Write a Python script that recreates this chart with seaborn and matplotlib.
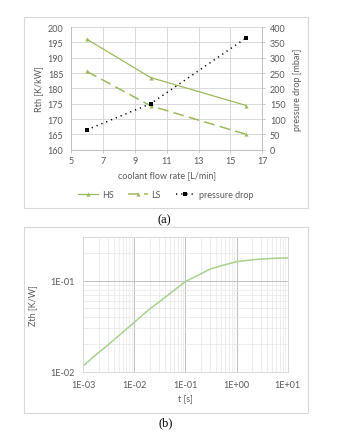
import numpy as np
import pandas as pd
import matplotlib
matplotlib.use("Agg")
import matplotlib.pyplot as plt
from matplotlib.patches import Rectangle
from matplotlib.ticker import FixedLocator, LogLocator, NullFormatter, FuncFormatter
import seaborn as sns

# ---- data: thermal resistance and pressure drop vs. coolant flow ----
flow_rate = [6, 10, 16]              # L/min
rth_hs = [196.0, 183.5, 174.4]       # K/kW
rth_ls = [185.5, 174.3, 165.0]       # K/kW
pressure_drop = [65, 150, 365]       # mbar

# ---- data: transient thermal impedance ----
t_s = [1e-3, 2e-3, 3e-3, 5e-3, 1e-2, 2e-2, 3e-2, 5e-2, 1e-1, 2e-1, 3e-1, 5e-1, 1, 2, 3, 5, 10]
zth = [0.0116, 0.0163, 0.0195, 0.0250, 0.0350, 0.0490, 0.0580, 0.0725, 0.0980,
       0.1190, 0.1340, 0.1460, 0.1620, 0.1695, 0.1730, 0.1760, 0.1780]

x_ticks_a = [5, 7, 9, 11, 13, 15, 17]
y_ticks_left = [160, 165, 170, 175, 180, 185, 190, 195, 200]
y_ticks_right = [0, 50, 100, 150, 200, 250, 300, 350, 400]

sns.set_theme(style="white")
plt.rcParams["font.family"] = ["Lato", "DejaVu Sans"]

TXT = "#595959"
GRID = "#d9d9d9"
GREEN = "#9bbb59"
FS = 6.5

W, H = 350, 435
fig = plt.figure(figsize=(W / 100, H / 100), dpi=100)
fig.patch.set_facecolor("white")


def fx(px):
    return px / W


def fy(py):
    return 1 - py / H


# chart frames
for top, bottom in [(18, 209), (228, 414)]:
    fig.patches.append(Rectangle((fx(24), fy(bottom)), fx(307.7) - fx(24), fy(top) - fy(bottom),
                                 transform=fig.transFigure, fill=False,
                                 edgecolor="#d9d9d9", linewidth=0.8))

# ================= chart (a) =================
ax = fig.add_axes([fx(71), fy(150.7), fx(262.3) - fx(71), fy(28) - fy(150.7)])
ax2 = ax.twinx()

df = pd.DataFrame({"flow": flow_rate, "HS": rth_hs, "LS": rth_ls, "dp": pressure_drop})

sns.lineplot(data=df, x="flow", y="HS", ax=ax, color=GREEN, linewidth=0.9,
             marker="^", markersize=3, markeredgewidth=0, label="HS", legend=False)
sns.lineplot(data=df, x="flow", y="LS", ax=ax, color=GREEN, linewidth=1.1,
             marker="^", markersize=3, markeredgewidth=0, label="LS", legend=False,
             dashes=False, linestyle=(0, (7, 3.5)))
sns.lineplot(data=df, x="flow", y="dp", ax=ax2, color="black", linewidth=1.1,
             marker="s", markersize=2.5, markeredgewidth=0, label="pressure drop",
             legend=False, linestyle=(0, (0.8, 2.6)))

ax.set_xlim(5, 17)
ax.set_ylim(160, 200)
ax2.set_ylim(0, 400)
ax.set_xticks(x_ticks_a)
ax.set_yticks(y_ticks_left)
ax2.set_yticks(y_ticks_right)
ax.grid(True, color=GRID, linewidth=0.7)
ax2.grid(False)
ax.set_axisbelow(True)

for a in (ax, ax2):
    for s in a.spines.values():
        s.set_color("#bfbfbf")
        s.set_linewidth(0.7)
    a.spines["top"].set_visible(False)
    a.tick_params(labelsize=FS, colors=TXT, length=2.5, width=0.6, pad=2,
                  color="#bfbfbf")
ax.tick_params(axis="x", direction="out", bottom=True)
ax.tick_params(axis="y", left=False, pad=3)
ax2.tick_params(axis="y", right=True, direction="out", pad=3)

ax.set_xlabel("coolant flow rate [L/min]", fontsize=FS, color=TXT, labelpad=4)
ax.set_ylabel("Rth [K/kW]", fontsize=FS, color=TXT, labelpad=3)
ax2.set_ylabel("pressure drop [mbar]", fontsize=FS, color=TXT, labelpad=5)

h1, l1 = ax.get_legend_handles_labels()
h2, l2 = ax2.get_legend_handles_labels()
fig.legend(h1 + h2, l1 + l2, loc="center", bbox_to_anchor=(fx(166), fy(196)),
           ncol=3, frameon=False, fontsize=FS, labelcolor=TXT, handlelength=2.2,
           handletextpad=0.4, columnspacing=1.6)

fig.text(fx(164), fy(220), "(a)", ha="center", va="center", fontsize=9,
         family=["Liberation Serif", "DejaVu Serif"], color="black")

# ================= chart (b) =================
bx = fig.add_axes([fx(83.3), fy(372.7), fx(287.7) - fx(83.3), fy(238.3) - fy(372.7)])
dz = pd.DataFrame({"t": t_s, "Zth": zth})
sns.lineplot(data=dz, x="t", y="Zth", ax=bx, color="#a9d18e", linewidth=1.1)
bx.set_xscale("log")
bx.set_yscale("log")
bx.set_xlim(1e-3, 10)
bx.set_ylim(1e-2, 0.3)

sci = FuncFormatter(lambda v, p: "{:.0E}".format(v))
bx.xaxis.set_major_locator(FixedLocator([1e-3, 1e-2, 1e-1, 1, 10]))
bx.yaxis.set_major_locator(FixedLocator([1e-2, 1e-1]))
bx.xaxis.set_major_formatter(sci)
bx.yaxis.set_major_formatter(sci)
bx.xaxis.set_minor_locator(LogLocator(base=10, subs=np.arange(2, 10)))
bx.yaxis.set_minor_locator(LogLocator(base=10, subs=np.arange(2, 10)))
bx.xaxis.set_minor_formatter(NullFormatter())
bx.yaxis.set_minor_formatter(NullFormatter())
bx.grid(True, which="major", color="#bfbfbf", linewidth=0.7)
bx.grid(True, which="minor", color="#e6e6e6", linewidth=0.5)
bx.set_axisbelow(True)
for s in bx.spines.values():
    s.set_color("#d9d9d9")
    s.set_linewidth(0.7)
bx.tick_params(which="both", length=0, labelsize=FS, colors=TXT, pad=6)
bx.set_xlabel("t [s]", fontsize=FS, color=TXT, labelpad=4)
bx.set_ylabel("Zth [K/W]", fontsize=FS, color=TXT, labelpad=10)

fig.text(fx(166), fy(423), "(b)", ha="center", va="center", fontsize=9,
         family=["Liberation Serif", "DejaVu Serif"], color="black")

fig.savefig("out.png", dpi=100, facecolor="white")
